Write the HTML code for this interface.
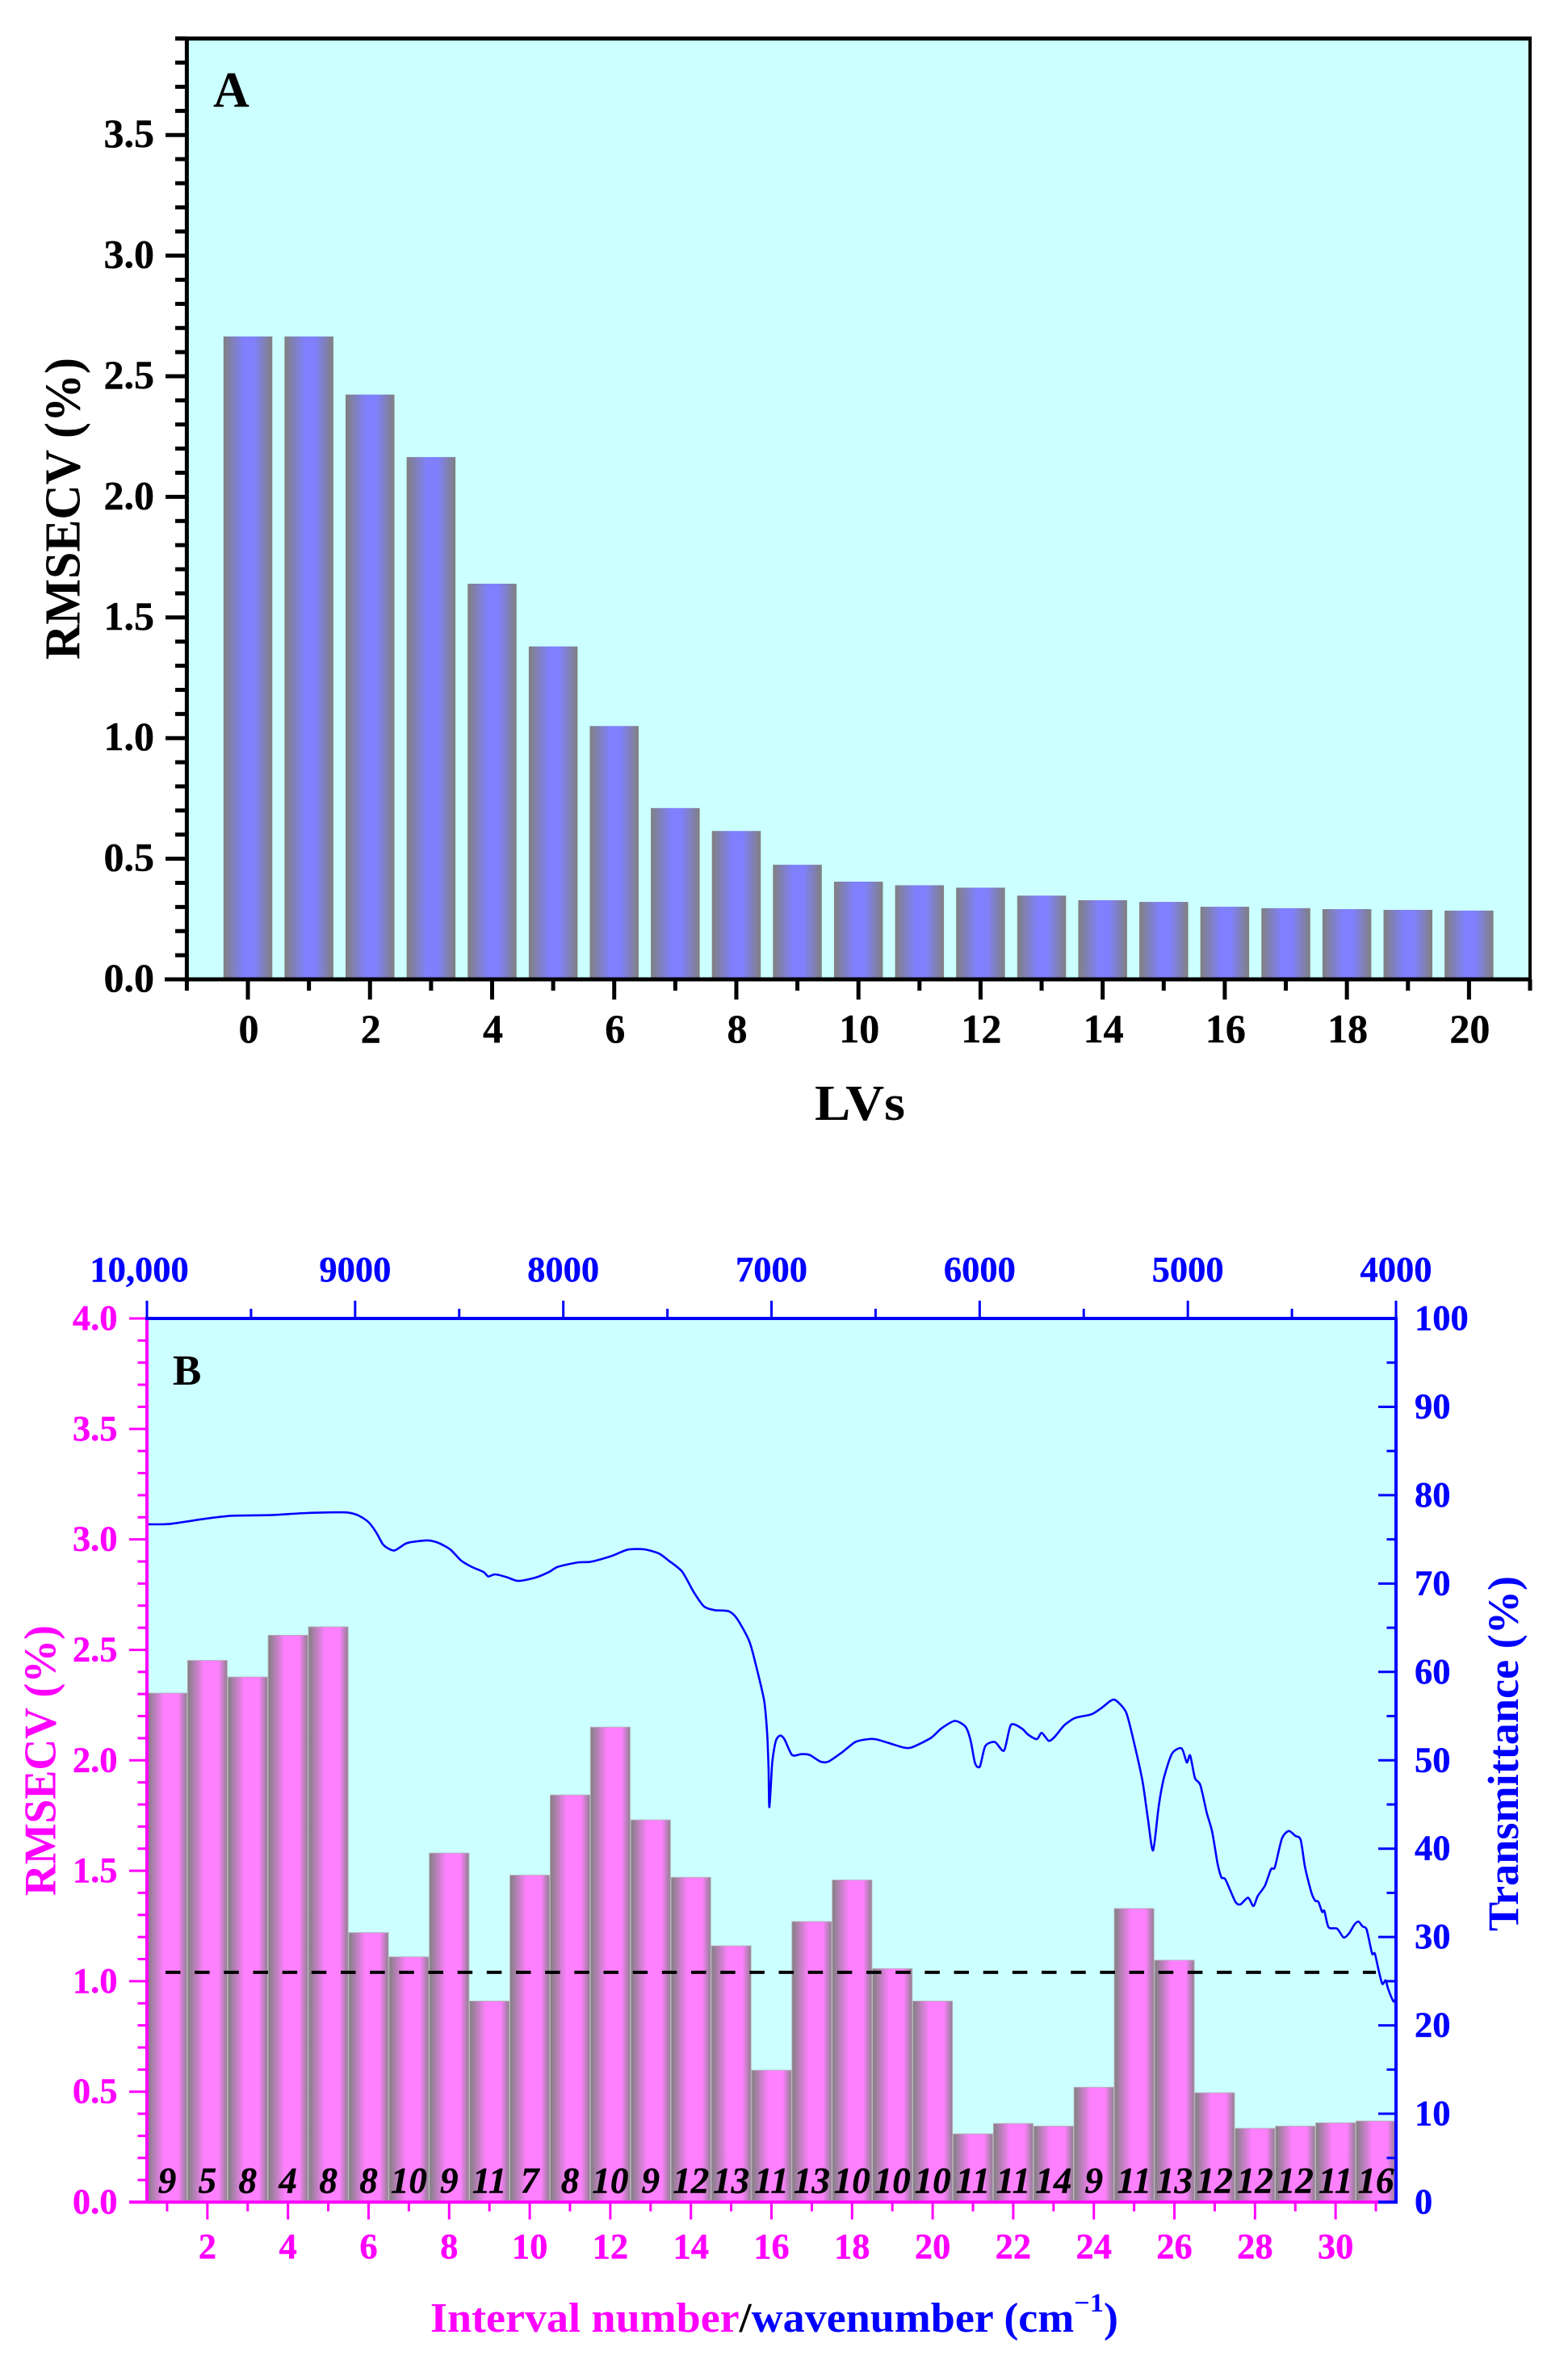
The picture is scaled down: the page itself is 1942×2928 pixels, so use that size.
<!DOCTYPE html>
<html lang="en">
<head>
<meta charset="utf-8">
<title>RMSECV charts</title>
<style>
html,body{margin:0;padding:0;background:#fff;width:1942px;height:2928px;overflow:hidden}
svg{display:block}
text{font-family:"Liberation Serif",serif;font-weight:bold}
</style>
</head>
<body>
<svg id="fig" xmlns="http://www.w3.org/2000/svg" width="1942" height="2928" viewBox="0 0 1942 2928">
  <defs>
    <linearGradient id="gradA" x1="0" x2="1" y1="0" y2="0">
      <stop offset="0" stop-color="#808080"/><stop offset="0.42" stop-color="#8080ff"/><stop offset="0.62" stop-color="#8080ff"/><stop offset="1" stop-color="#808080"/>
    </linearGradient>
    <linearGradient id="gradB" x1="0" x2="1" y1="0" y2="0">
      <stop offset="0" stop-color="#808080"/><stop offset="0.42" stop-color="#ff80ff"/><stop offset="0.78" stop-color="#ff80ff"/><stop offset="1" stop-color="#8f808f"/>
    </linearGradient>
  </defs>
  <rect x="0" y="0" width="1942" height="2928" fill="#fff"/>

  <g id="panelA">
    <rect x="231" y="47" width="1664" height="1166" fill="#ccffff"/>
    <g id="aBars"></g>
    <g id="aAxes"></g>
    <text x="264" y="132" font-size="62" fill="#000">A</text>
    <text transform="translate(98.5,817) rotate(-90)" font-size="62" fill="#000" textLength="374" lengthAdjust="spacingAndGlyphs">RMSECV (%)</text>
    <text x="1009" y="1387" font-size="62" fill="#000" textLength="112" lengthAdjust="spacingAndGlyphs">LVs</text>
  </g>

  <g id="panelB">
    <rect x="182" y="1633" width="1547" height="1094.5" fill="#ccffff"/>
    <g id="bBars"></g>
    <g id="bLine"></g>
    <g id="bLabels"></g>
    <g id="bAxes"></g>
    <text x="214" y="1715" font-size="53" fill="#000">B</text>
    <text transform="translate(68.5,2348) rotate(-90)" font-size="56" fill="#ff00ff" textLength="335" lengthAdjust="spacingAndGlyphs">RMSECV (%)</text>
    <text transform="translate(1880,2392) rotate(-90)" font-size="54" fill="#0000ff" textLength="440" lengthAdjust="spacingAndGlyphs">Transmittance (%)</text>
    <text x="533" y="2888" font-size="52" textLength="852" lengthAdjust="spacingAndGlyphs"><tspan fill="#ff00ff">Interval number</tspan><tspan fill="#000">/</tspan><tspan fill="#0000ff">wavenumber (cm</tspan><tspan fill="#0000ff" font-size="33" dy="-25">−1</tspan><tspan fill="#0000ff" dy="25">)</tspan></text>
  </g>
</svg>
<script>
// Panel A data
const lvCategories = [0,1,2,3,4,5,6,7,8,9,10,11,12,13,14,15,16,17,18,19,20];
const lvRmsecv = [2.665,2.665,2.424,2.165,1.64,1.38,1.05,0.71,0.615,0.475,0.405,0.39,0.38,0.347,0.328,0.321,0.301,0.295,0.291,0.288,0.285];
const aYTickLabels = ['0.0','0.5','1.0','1.5','2.0','2.5','3.0','3.5'];
const aXTickLabels = ['0','2','4','6','8','10','12','14','16','18','20'];

// Panel B data
const intervalCategories = [1,2,3,4,5,6,7,8,9,10,11,12,13,14,15,16,17,18,19,20,21,22,23,24,25,26,27,28,29,30,31];
const intervalRmsecv = [2.304,2.452,2.377,2.566,2.604,1.22,1.11,1.58,0.91,1.48,1.843,2.15,1.73,1.47,1.16,0.597,1.27,1.458,1.057,0.91,0.309,0.356,0.344,0.52,1.329,1.095,0.495,0.334,0.344,0.359,0.367];
const intervalLvCounts = ['9','5','8','4','8','8','10','9','11','7','8','10','9','12','13','11','13','10','10','10','11','11','14','9','11','13','12','12','12','11','16'];
const thresholdValue = [1.04];
const thresholdSpan = [0.96, 31];
const bLeftTickLabels = ['0.0','0.5','1.0','1.5','2.0','2.5','3.0','3.5','4.0'];
const bRightTickLabels = ['0','10','20','30','40','50','60','70','80','90','100'];
const bBottomTickLabels = ['2','4','6','8','10','12','14','16','18','20','22','24','26','28','30'];
const bTopTickValues = [10000,9000,8000,7000,6000,5000,4000];
const bTopTickLabels = ['10,000','9000','8000','7000','6000','5000','4000'];
const wavenumbers = [9996,9887,9709,9589,9410,9232,9046,8988,8937,8898,8867,8838,8809,8759,8728,8650,8600,8542,8491,8441,8383,8360,8328,8274,8216,8134,8066,8026,7929,7867,7770,7690,7611,7541,7492,7429,7374,7324,7273,7205,7165,7107,7074,7035,7021,7014,7010,6996,6979,6958,6937,6901,6855,6816,6765,6727,6661,6597,6533,6494,6429,6366,6327,6236,6184,6120,6068,6043,6022,5999,5973,5927,5883,5850,5798,5767,5725,5702,5668,5638,5592,5540,5463,5412,5373,5347,5296,5257,5218,5192,5167,5140,5115,5076,5030,5005,4989,4966,4940,4909,4883,4857,4839,4819,4772,4747,4711,4685,4664,4630,4600,4582,4548,4515,4484,4458,4437,4406,4388,4373,4355,4344,4324,4283,4252,4226,4200,4180,4161,4141,4115,4102,4085,4066,4050,4038,4012,4000];
const transmittance = [76.7,76.76,77.37,77.68,77.74,77.98,78.05,77.74,76.98,75.76,74.45,73.93,73.75,74.5,74.7,74.88,74.6,73.84,72.6,71.9,71.3,70.8,71.04,70.74,70.3,70.67,71.34,71.9,72.4,72.47,73.1,73.84,73.87,73.4,72.56,71.34,69.05,67.4,66.99,66.86,66.0,63.5,60.7,56.7,53.1,49.1,44.7,49.8,52.2,52.8,52.35,50.6,50.7,50.6,49.85,49.85,50.9,52.07,52.4,52.35,51.9,51.45,51.45,52.5,53.6,54.45,53.8,52.2,49.65,49.3,51.6,52.07,51.1,54.0,53.6,52.9,52.4,53.1,52.2,52.7,54.0,54.8,55.2,55.96,56.7,56.8,55.4,51.85,47.65,43.4,39.8,44.8,48.0,50.75,51.35,49.75,50.55,48.0,47.2,44.05,41.9,38.3,36.75,36.5,34.0,33.7,34.45,33.5,34.65,35.8,37.7,37.9,41.15,42.0,41.45,41.0,37.9,35.0,34.1,34.0,32.85,32.95,31.1,30.95,29.95,30.4,31.4,31.75,31.2,30.85,28.15,28.15,26.4,24.7,25.1,24.15,22.7,23.2];

const NS = 'http://www.w3.org/2000/svg';
function linear(d0, d1, r0, r1) { return v => r0 + (v - d0) * (r1 - r0) / (d1 - d0); }
function svgEl(tag, parent, props) {
  const el = document.createElementNS(NS, tag);
  for (const k in props) el.setAttribute(k, props[k]);
  parent.appendChild(el);
  return el;
}
function tickMark(parent, x1, y1, x2, y2, color, width) {
  const el = svgEl('line', parent, {x1, y1, x2, y2, stroke: color, 'stroke-width': width});
  
  
  return el;
}
function axisLine(parent, x1, y1, x2, y2, color, width) {
  const el = svgEl('line', parent, {x1, y1, x2, y2, stroke: color, 'stroke-width': width});
  
  
  return el;
}
function tickText(parent, x, y, str, color, size, anchor) {
  const el = svgEl('text', parent, {x, y, fill: color, 'font-size': size, 'text-anchor': anchor, stroke: color, 'stroke-width': 0.4});
  el.textContent = str;
  
  
  return el;
}
function smoothPath(pts) {
  const t = 1 / 8;
  let d = 'M' + pts[0][0].toFixed(1) + ' ' + pts[0][1].toFixed(1);
  for (let i = 0; i < pts.length - 1; i++) {
    const p0 = pts[Math.max(i - 1, 0)], p1 = pts[i], p2 = pts[i + 1], p3 = pts[Math.min(i + 2, pts.length - 1)];
    d += 'C' + (p1[0] + (p2[0] - p0[0]) * t).toFixed(1) + ' ' + (p1[1] + (p2[1] - p0[1]) * t).toFixed(1) + ' ' +
         (p2[0] - (p3[0] - p1[0]) * t).toFixed(1) + ' ' + (p2[1] - (p3[1] - p1[1]) * t).toFixed(1) + ' ' +
         p2[0].toFixed(1) + ' ' + p2[1].toFixed(1);
  }
  return d;
}

// ---------- Panel A ----------
const ax = linear(-1, 21, 231.4, 1895);
const ay = linear(0, 3.9, 1213, 47.7);
const aBars = document.getElementById('aBars');
const aAxes = document.getElementById('aAxes');
const aBarW = (ax(1) - ax(0)) * 0.8;
lvCategories.forEach((c, i) => {
  const b = svgEl('rect', aBars, {x: ax(c) - aBarW / 2, y: ay(lvRmsecv[i]), width: aBarW, height: ay(0) - ay(lvRmsecv[i]), fill: 'url(#gradA)'});
  
  
});
axisLine(aAxes, 217, ay(3.9), 1897, ay(3.9), '#000', 5);
axisLine(aAxes, 204, ay(0), 1897, ay(0), '#000', 5);
axisLine(aAxes, ax(-1), ay(3.9), ax(-1), ay(0), '#000', 5);
axisLine(aAxes, ax(21), ay(3.9), ax(21), ay(0), '#000', 4);
for (let k = 0; k <= 39; k++) {
  const v = k / 10;
  tickMark(aAxes, k % 5 === 0 ? 205 : 217, ay(v), ax(-1), ay(v), '#000', 5);
}
aYTickLabels.forEach(s => tickText(aAxes, 191, ay(parseFloat(s)) + 15, s, '#000', 50, 'end'));
for (let k = -1; k <= 21; k++) {
  tickMark(aAxes, ax(k), ay(0), ax(k), k % 2 === 0 ? 1238 : 1227, '#000', 5);
}
aXTickLabels.forEach(s => tickText(aAxes, ax(parseFloat(s)) + 1, 1291, s, '#000', 50, 'middle'));

// ---------- Panel B ----------
const bx = linear(0.5, 31.5, 182, 1729);
const by = linear(0, 4, 2727.5, 1633);
const ry = linear(0, 100, 2727.5, 1633);
const wx = linear(10000, 4000, 182, 1729);
const bBars = document.getElementById('bBars');
const bLine = document.getElementById('bLine');
const bLabels = document.getElementById('bLabels');
const bAxes = document.getElementById('bAxes');
const bBarW = bx(2) - bx(1);
intervalCategories.forEach((c, i) => {
  const b = svgEl('rect', bBars, {x: bx(c) - bBarW / 2 + 0.4, y: by(intervalRmsecv[i]), width: bBarW - 0.8, height: by(0) - by(intervalRmsecv[i]), fill: 'url(#gradB)', stroke: '#b8aeb8', 'stroke-width': 0.9});
  
  
});
const spectrumPts = wavenumbers.map((w, i) => [wx(w), ry(transmittance[i])]);
const spectrum = svgEl('path', bLine, {d: smoothPath(spectrumPts), fill: 'none', stroke: '#0000ff', 'stroke-width': 2.6, 'stroke-linejoin': 'round'});


const threshold = svgEl('line', bLine, {x1: bx(thresholdSpan[0]), x2: bx(thresholdSpan[1]), y1: by(thresholdValue[0]), y2: by(thresholdValue[0]), stroke: '#000', 'stroke-width': 4, 'stroke-dasharray': '18.5 17.67'});


intervalCategories.forEach((c, i) => {
  const t = svgEl('text', bLabels, {x: bx(c), y: 2716, 'font-size': 45, 'font-style': 'italic', 'text-anchor': 'middle', fill: '#000', stroke: '#000', 'stroke-width': 0.4});
  t.textContent = intervalLvCounts[i];
  
  
});
// left axis
for (let k = 0; k <= 40; k++) {
  const v = k / 10;
  tickMark(bAxes, k % 5 === 0 ? 160 : 170.5, by(v), 182, by(v), '#ff00ff', 3);
}
axisLine(bAxes, 182, by(4), 182, by(0), '#ff00ff', 4);
bLeftTickLabels.forEach(s => tickText(bAxes, 145.5, by(parseFloat(s)) + 14, s, '#ff00ff', 44.5, 'end'));
// right axis
for (let k = 0; k <= 100; k += 5) {
  tickMark(bAxes, k % 10 === 0 ? 1707 : 1717.5, ry(k), 1729, ry(k), '#0000ff', 3);
}
// bottom axis
axisLine(bAxes, 160, by(0), 1707, by(0), '#ff00ff', 4);
axisLine(bAxes, 1707, by(0), 1731, by(0), '#0000ff', 4);
axisLine(bAxes, 1729, ry(100), 1729, ry(0) + 2, '#0000ff', 4);
bRightTickLabels.forEach(s => tickText(bAxes, 1752, ry(parseFloat(s)) + 14, s, '#0000ff', 44.5, 'start'));
for (let k = 1; k <= 31; k++) {
  tickMark(bAxes, bx(k), 2729, bx(k), k % 2 === 0 ? 2749 : 2739, '#ff00ff', 3);
}
bBottomTickLabels.forEach(s => tickText(bAxes, bx(parseFloat(s)), 2797, s, '#ff00ff', 44.5, 'middle'));
// top axis
axisLine(bAxes, 180, 1633, 1731, 1633, '#0000ff', 4);
for (let w = 10000; w >= 4000; w -= 500) {
  tickMark(bAxes, wx(w), 1633, wx(w), w % 1000 === 0 ? 1611 : 1621, '#0000ff', 3);
}
bTopTickValues.forEach((w, i) => {
  const shift = i === 0 ? -9.5 : 0;
  tickText(bAxes, wx(w) + shift, 1587, bTopTickLabels[i], '#0000ff', 44.5, 'middle');
});
</script>
</body>
</html>
